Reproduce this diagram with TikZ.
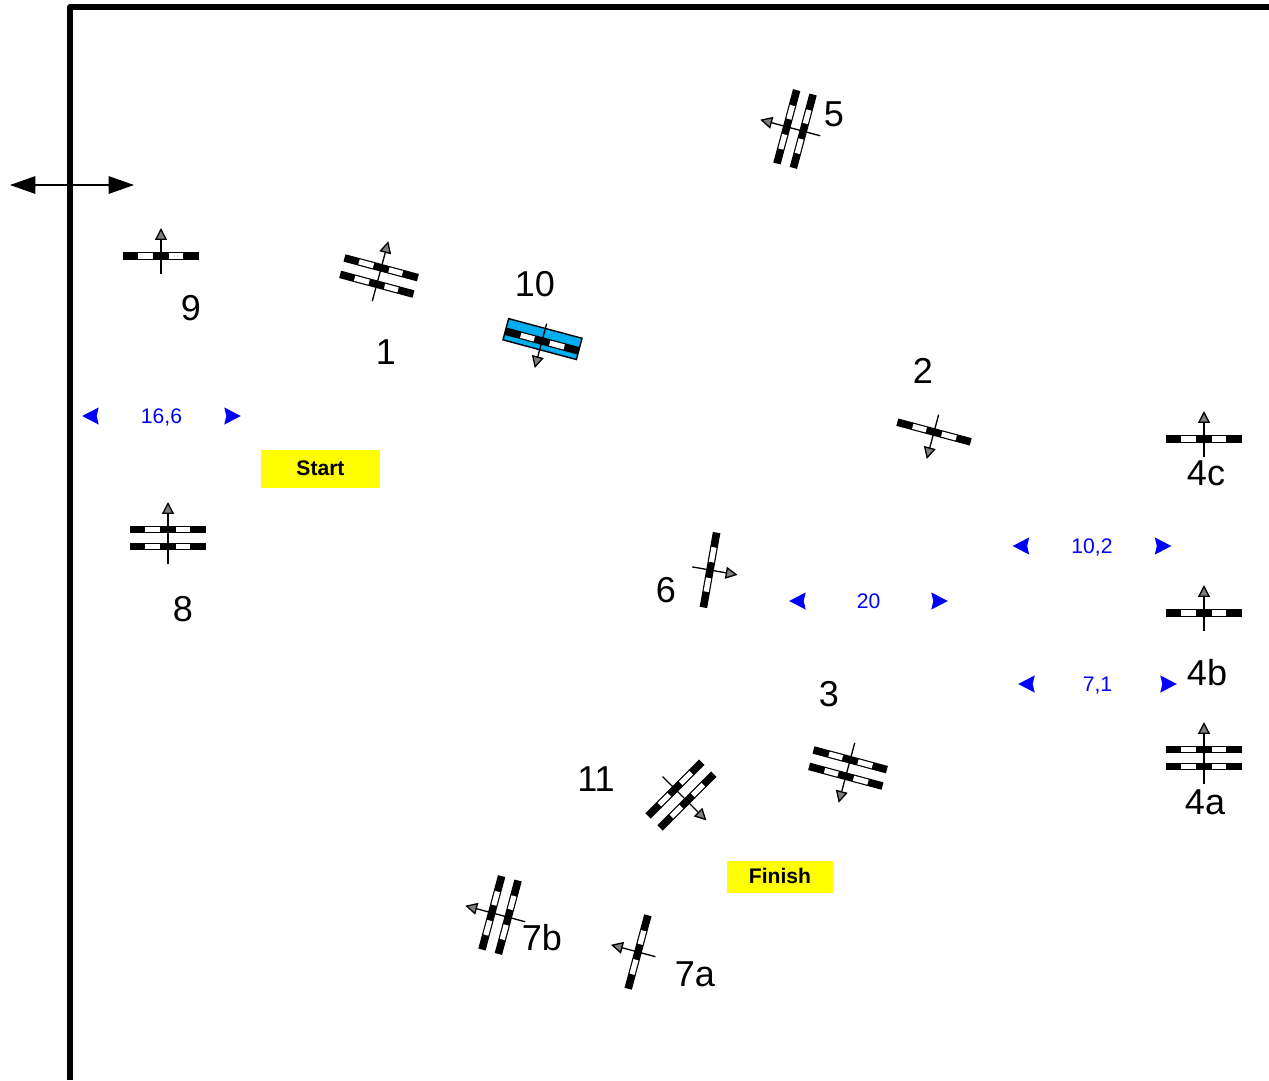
\documentclass[tikz,border=0pt]{standalone}
\usepackage{xcolor}
\usepackage{fontspec}
\setmainfont{Liberation Sans}
\definecolor{gateblue}{RGB}{0,174,239}
\definecolor{labelblue}{RGB}{0,0,255}
\definecolor{startyellow}{RGB}{255,255,0}
\definecolor{tipgray}{RGB}{127,127,127}
\usetikzlibrary{arrows.meta}
\tikzset{
  gatearrow/.style={line width=0.75pt, -{Triangle[length=6.8pt, width=6.8pt, fill=tipgray]}},
  biglabel/.style={font=\fontsize{20.5}{24}\selectfont, inner sep=0pt},
  widthlabel/.style={font=\fontsize{12}{14}\selectfont, text=labelblue, inner sep=0pt, text height=8.4pt, text depth=0pt},
  widthtip/.style={line width=0.1pt, labelblue, draw opacity=0, -{Stealth[length=9.6pt, width=10pt, inset=1.2pt]}},
  startbox/.style={fill=startyellow, font=\fontsize{12}{14}\selectfont\bfseries, inner sep=0pt, text depth=1pt}
}
% black bar with two white windows, #1 = offset from the gate centre
\newcommand{\gatebar}[1]{
  \fill[black] (-38,#1-3.8) rectangle (38,#1+3.8);
  \fill[white] (-23,#1-2.6) rectangle (-8,#1+2.6);
  \fill[white] (8,#1-2.6) rectangle (22,#1+2.6);
}
% one bar, arrow through it: #1 name, #2 position, #3 angle
\newcommand{\onegate}[3]{
  \begin{scope}[shift={(#2)}, rotate=#3]
    \gatebar{0}
    \coordinate (#1tail) at (0,18);
    \coordinate (#1tip) at (0,-28);
    \draw[gatearrow] (#1tail) -- (#1tip);
  \end{scope}
}
% two bars side by side
\newcommand{\twogate}[3]{
  \begin{scope}[shift={(#2)}, rotate=#3]
    \gatebar{-8.5}
    \gatebar{8.5}
    \coordinate (#1tail) at (0,26);
    \coordinate (#1tip) at (0,-36);
    \draw[gatearrow] (#1tail) -- (#1tip);
  \end{scope}
}
% width marker: #1 name, #2 text position, #3 text, #4 half span
\newcommand{\widthmark}[4]{
  \node[widthlabel] (#1) at (#2) {#3};
  \coordinate (#1l) at ([xshift=-#4*0.02cm]#1.center);
  \coordinate (#1r) at ([xshift=#4*0.02cm]#1.center);
  \draw[widthtip] ([xshift=17*0.02cm]#1l) -- (#1l);
  \draw[widthtip] ([xshift=-17*0.02cm]#1r) -- (#1r);
}
\begin{document}
\begin{tikzpicture}[x=0.02cm, y=-0.02cm]
  \useasboundingbox (0,0) rectangle (1269,1080);

  % side of the box
  \coordinate (cornerA) at (70,1080);
  \coordinate (cornerB) at (70,7);
  \coordinate (cornerC) at (1269,7);
  \draw[line width=2.9pt, line join=round] (cornerA) -- (cornerB) -- (cornerC);

  \coordinate (windL) at (10,185);
  \coordinate (windR) at (134,185);
  \draw[line width=0.9pt, {Triangle[length=14.5pt, width=10pt]}-{Triangle[length=14.5pt, width=10pt]}] (windL) -- (windR);

  % gates
  \onegate{gNine}{161,256}{0}
  \twogate{gOne}{379,276}{-15}
  \begin{scope}[shift={(542,341)}, rotate=165]
    \fill[gateblue, draw=black, line width=0.8pt] (-38,-9) rectangle (38,13);
  \end{scope}
  \onegate{gTen}{542,341}{165}
  \twogate{gFive}{795,129}{75}
  \onegate{gTwo}{934,432}{165}
  \onegate{gFourC}{1204,439}{0}
  \onegate{gFourB}{1204,613}{0}
  \twogate{gFourA}{1204,758}{0}
  \twogate{gEight}{168,538}{0}
  \onegate{gSix}{710,570}{-100}
  \twogate{gThree}{848,768}{165}
  \twogate{gEleven}{681,795}{-135}
  \onegate{gSevenA}{638,952}{75}
  \twogate{gSevenB}{500,915}{75}

  % numbers
  \node[biglabel] (nNine) at (191,308) {9};
  \node[biglabel] (nOne) at (386,352) {1};
  \node[biglabel] (nTen) at (535,284) {10};
  \node[biglabel] (nFive) at (834,114) {5};
  \node[biglabel] (nTwo) at (923,371) {2};
  \node[biglabel] (nFourC) at (1206,473) {4c};
  \node[biglabel] (nFourB) at (1207,673) {4b};
  \node[biglabel] (nFourA) at (1205,802) {4a};
  \node[biglabel] (nThree) at (829,694) {3};
  \node[biglabel] (nSix) at (666,590) {6};
  \node[biglabel] (nEight) at (183,609) {8};
  \node[biglabel] (nEleven) at (596,779) {11};
  \node[biglabel] (nSevenB) at (542,938) {7b};
  \node[biglabel] (nSevenA) at (695,974) {7a};

  % start and finish
  \node[startbox, minimum width=119*0.02cm, minimum height=38*0.02cm] (start) at (320.5,469) {Start};
  \node[startbox, minimum width=106*0.02cm, minimum height=32*0.02cm] (finish) at (780,877) {Finish};

  % widths
  \widthmark{wA}{161.5,416}{16,6}{79.5}
  \widthmark{wB}{868.5,601}{20}{79.5}
  \widthmark{wC}{1092,546}{10,2}{79.5}
  \widthmark{wD}{1097.5,684}{7,1}{79.5}
\end{tikzpicture}
\end{document}
